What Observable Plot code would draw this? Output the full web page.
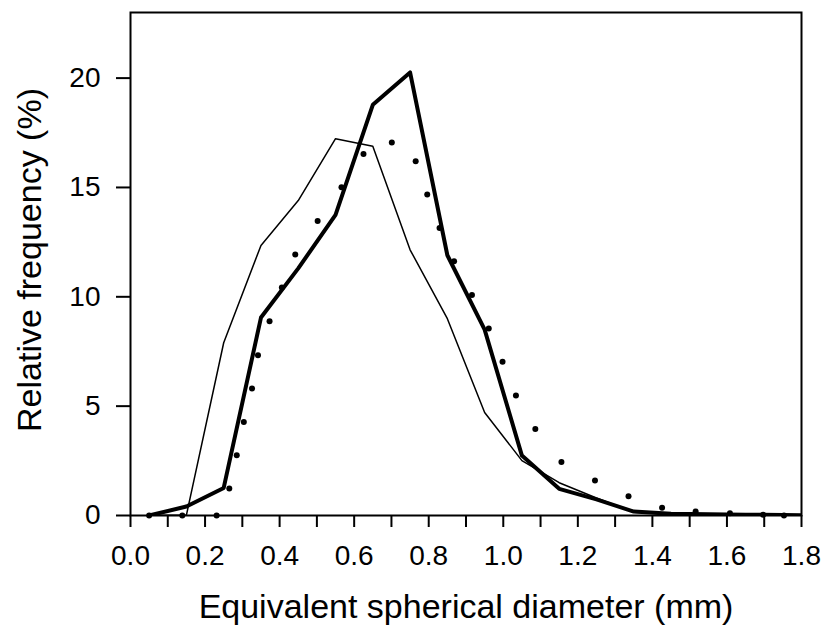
<!DOCTYPE html>
<html>
<head>
<meta charset="utf-8">
<script src="https://cdn.jsdelivr.net/npm/d3@7"></script>
<script src="https://cdn.jsdelivr.net/npm/@observablehq/plot@0.6"></script>
<style>
  html, body { margin: 0; padding: 0; background: white; }
</style>
</head>
<body>
<div id="chart"></div>
<script>
// Bin centres (mm)
const binX = [0.05, 0.15, 0.25, 0.35, 0.45, 0.55, 0.65, 0.75, 0.85, 0.95, 1.05, 1.15, 1.25, 1.35, 1.45, 1.55, 1.65, 1.75, 1.85];
// Thick line series (%)
const thickY = [0, 0.41, 1.26, 9.05, 11.3, 13.75, 18.78, 20.26, 11.9, 8.5, 2.74, 1.22, 0.74, 0.18, 0.08, 0.06, 0.04, 0.02, 0];
// Thin line series (%)
const thinY = [0, 0.02, 7.9, 12.35, 14.4, 17.23, 16.88, 12.15, 9.0, 4.71, 2.51, 1.5, 0.8, 0.15, 0.05, 0.03, 0.02, 0.01, 0];
// Dotted series
const dotX = [0.05, 0.139, 0.231, 0.265, 0.285, 0.304, 0.326, 0.342, 0.373, 0.406, 0.442, 0.502, 0.566, 0.625, 0.701, 0.765, 0.796, 0.829, 0.868, 0.916, 0.961, 0.998, 1.034, 1.086, 1.156, 1.246, 1.336, 1.426, 1.516, 1.608, 1.697, 1.753];
const dotY = [0, 0, 0, 1.23, 2.75, 4.27, 5.81, 7.33, 8.88, 10.42, 11.94, 13.47, 15.01, 16.53, 17.06, 16.2, 14.68, 13.15, 11.63, 10.08, 8.55, 7.03, 5.49, 3.95, 2.45, 1.6, 0.88, 0.36, 0.18, 0.1, 0.03, 0];

// Axis ticks
const xMinorTicks = [0, 0.1, 0.2, 0.3, 0.4, 0.5, 0.6, 0.7, 0.8, 0.9, 1.0, 1.1, 1.2, 1.3, 1.4, 1.5, 1.6, 1.7, 1.8];
const xLabelTicks = [0, 0.2, 0.4, 0.6, 0.8, 1.0, 1.2, 1.4, 1.6, 1.8];
const yTicks = [0, 5, 10, 15, 20];
const xTitle = "Equivalent spherical diameter (mm)";
const yTitle = "Relative frequency (%)";

const thick = binX.map((x, i) => ({x, y: thickY[i]}));
const thin = binX.map((x, i) => ({x, y: thinY[i]}));
const dots = dotX.map((x, i) => ({x, y: dotY[i]}));

const font = "'Liberation Sans', Arial, Helvetica, sans-serif";

const chart = Plot.plot({
  width: 825,
  height: 635,
  marginLeft: 130,
  marginRight: 24,
  marginTop: 12,
  marginBottom: 120,
  style: {fontFamily: font, background: "white", color: "black"},
  x: {domain: [0, 1.8]},
  y: {domain: [0, 23]},
  marks: [
    Plot.axisX({ticks: xMinorTicks, tickSize: 12, strokeWidth: 2, text: null, label: null}),
    Plot.axisX({ticks: xLabelTicks, tickSize: 0, tickPadding: 30, tickFormat: d3.format(".1f"), fontSize: 28, label: null}),
    Plot.axisY({ticks: yTicks, tickSize: 14, strokeWidth: 2, tickPadding: 16, fontSize: 28, label: null}),
    Plot.line(thin, {x: "x", y: "y", stroke: "black", strokeWidth: 1.5, clip: true}),
    Plot.line(thick, {x: "x", y: "y", stroke: "black", strokeWidth: 4, clip: true}),
    Plot.dot(dots, {x: "x", y: "y", r: 3, fill: "black", stroke: null}),
    Plot.frame({stroke: "black", strokeWidth: 2}),
    Plot.text([xTitle], {frameAnchor: "bottom", textAnchor: "middle", lineAnchor: "middle", dy: 92, fontSize: 34, fill: "black"}),
    Plot.text([yTitle], {frameAnchor: "left", textAnchor: "middle", lineAnchor: "middle", rotate: -90, dx: -100, dy: -4, fontSize: 34, fill: "black"})
  ]
});
document.getElementById("chart").appendChild(chart);
</script>
</body>
</html>
